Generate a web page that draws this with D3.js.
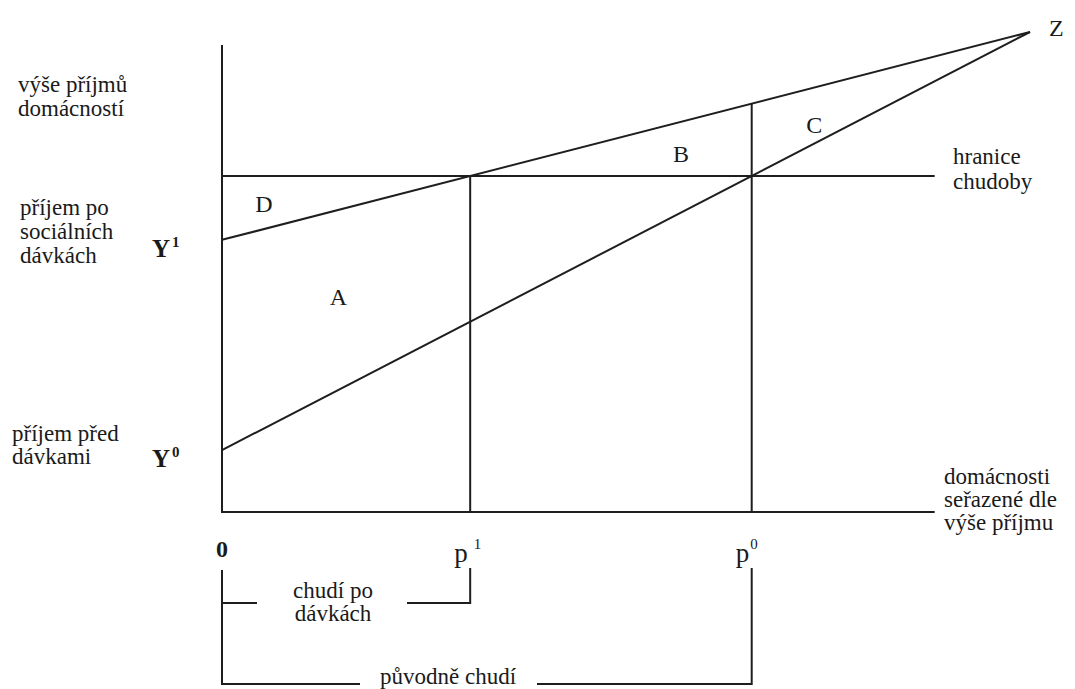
<!DOCTYPE html>
<html>
<head>
<meta charset="utf-8">
<title>Chudoba a sociální dávky</title>
<script src="https://cdn.jsdelivr.net/npm/d3@7"></script>
<style>
body { margin: 0; background: #fff; }
text { font-family: "Liberation Serif", "Liberation Sans", sans-serif; fill: #1a1a1a; }
</style>
</head>
<body>
<svg id="chart"></svg>
<script>

// values in abstract units: x = households ordered by income, y = income
var axisEnd = [8.82, 9.73];          // x axis length, y axis length
var povertyLine = 7.0;
var incomeAfter = [[0, 5.67], [10, 10]];   // Y1 -> Z
var incomeBefore = [[0, 1.29], [10, 10]];  // Y0 -> Z
var areaNames = ["A", "B", "C", "D"];
var areaPos = [[1.44, 4.31], [5.68, 7.3], [7.33, 7.9], [0.52, 6.25]];
var yLabels = [
  {lines: ["výše příjmů", "domácností"], at: 8.65},
  {lines: ["příjem po", "sociálních", "dávkách"], at: 5.85},
  {lines: ["příjem před", "dávkami"], at: 1.39}
];
var rightLabels = [
  {lines: ["hranice", "chudoby"], at: povertyLine},
  {lines: ["domácnosti", "seřazené dle", "výše příjmu"], at: 0}
];

var W = 1075, H = 689;
var svg = d3.select("#chart").attr("width", W).attr("height", H);

var x = d3.scaleLinear().domain([0, 10]).range([222, 1030]);
var y = d3.scaleLinear().domain([0, 10]).range([512, 32]);

var ink = "#1e1e1e";
var fs = 23;

// where a line crosses the poverty level
function crossAt(l, v) {
  var k = (l[1][1] - l[0][1]) / (l[1][0] - l[0][0]);
  return l[0][0] + (v - l[0][1]) / k;
}
var p1 = crossAt(incomeAfter, povertyLine);
var p0 = crossAt(incomeBefore, povertyLine);
function valAt(l, xv) {
  var k = (l[1][1] - l[0][1]) / (l[1][0] - l[0][0]);
  return l[0][1] + k * (xv - l[0][0]);
}

var line = d3.line().x(function(d) { return x(d[0]); }).y(function(d) { return y(d[1]); });
var g = svg.append("g").attr("fill", "none").attr("stroke", ink).attr("stroke-width", 2);

// axes
g.append("path").attr("d", line([[0, axisEnd[1]], [0, 0], [axisEnd[0], 0]]));
// poverty line
g.append("path").attr("d", line([[0, povertyLine], [axisEnd[0], povertyLine]]));
// income lines
g.append("path").attr("d", line(incomeAfter));
g.append("path").attr("d", line(incomeBefore));
// p1, p0 verticals
g.append("path").attr("d", line([[p1, povertyLine], [p1, 0]]));
g.append("path").attr("d", line([[p0, valAt(incomeAfter, p0)], [p0, 0]]));

// brackets below axis
var x0 = x(0), xp1 = x(p1), xp0 = x(p0);
g.append("path").attr("d", "M" + x0 + ",570V684H360");
g.append("path").attr("d", "M537,684H" + xp0 + "V568");
g.append("path").attr("d", "M" + x0 + ",603H257");
g.append("path").attr("d", "M407,603H" + xp1 + "V568");

// one <text> per line
function multi(lines, xx, yy, lh, anchor) {
  lines.forEach(function(s, i) {
    svg.append("text").attr("x", xx).attr("y", yy + i * lh)
      .attr("font-size", fs).attr("text-anchor", anchor || "start").text(s);
  });
}

// left labels
multi(yLabels[0].lines, 18, y(yLabels[0].at) - 5, 24);
multi(yLabels[1].lines, 20, y(yLabels[1].at) - 24 + 8, 24);
multi(yLabels[2].lines, 12, y(yLabels[2].at) - 11 + 7, 23);

// Y1, Y0
[["Y", "1", valAt(incomeAfter, 0)], ["Y", "0", valAt(incomeBefore, 0)]].forEach(function(d) {
  var t = svg.append("text").attr("x", 152).attr("y", y(d[2]) + 17)
    .attr("font-size", 25).attr("font-weight", "bold");
  t.append("tspan").text(d[0]);
  t.append("tspan").attr("dx", 2).attr("dy", -10).attr("font-size", 15).text(d[1]);
});

// right labels
multi(rightLabels[0].lines, 953, y(rightLabels[0].at) - 12, 25);
multi(rightLabels[1].lines, 944, y(rightLabels[1].at) - 28, 23);

// Z
svg.append("text").attr("x", x(10) + 19).attr("y", y(10) + 4)
  .attr("font-size", 24).text("Z");

// area names
areaNames.forEach(function(n, i) {
  svg.append("text").attr("x", x(areaPos[i][0])).attr("y", y(areaPos[i][1]))
    .attr("font-size", 24).attr("text-anchor", "middle").text(n);
});

// x marks 0, p1, p0
svg.append("text").attr("x", x0).attr("y", 557).attr("font-size", 24)
  .attr("font-weight", "bold").attr("text-anchor", "middle").text("0");
[[p1, "1", 6], [p0, "0", 1]].forEach(function(d) {
  var t = svg.append("text").attr("x", x(d[0]) - 16).attr("y", 562)
    .attr("font-size", 27);
  t.append("tspan").text("p");
  t.append("tspan").attr("dx", d[2]).attr("dy", -13).attr("font-size", 15).text(d[1]);
});

// bracket labels
multi(["chudí po", "dávkách"], 333, 598, 23, "middle");
svg.append("text").attr("x", 448).attr("y", 684).attr("font-size", fs)
  .attr("text-anchor", "middle").text("původně chudí");

</script>
</body>
</html>
